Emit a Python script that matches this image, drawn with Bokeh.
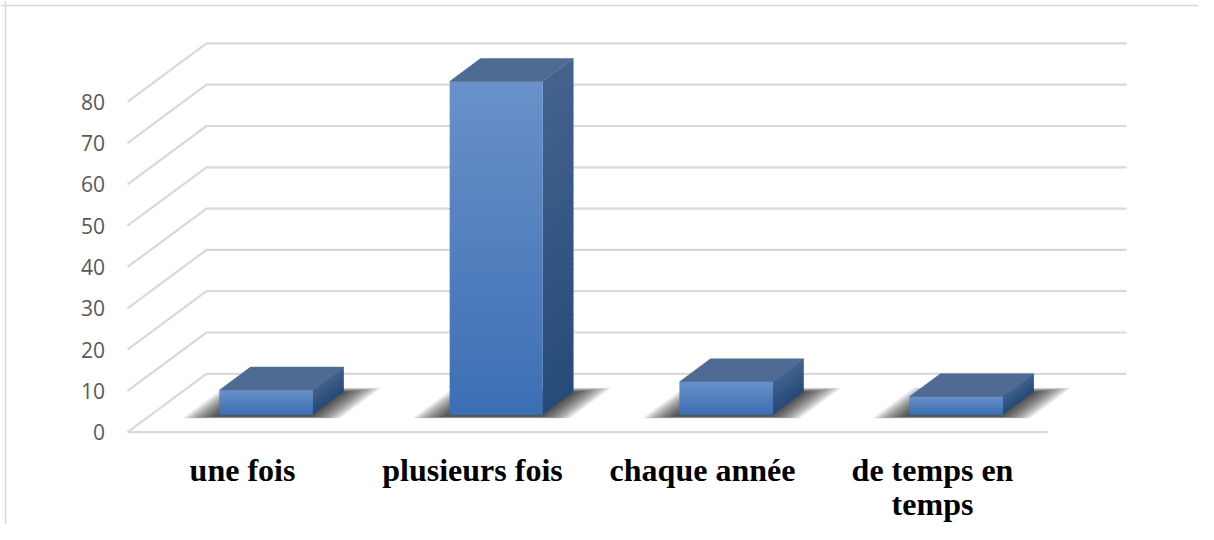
from bokeh.plotting import figure
from bokeh.models import Range1d, Span
from bokeh.core.properties import value
from bokeh.embed import file_html
from bokeh.resources import INLINE

# ---------------- data ----------------
categories = ["une fois", "plusieurs fois", "chaque année", "de temps en\ntemps"]
values = [6, 80.7, 8, 4.4]
y_ticks = [0, 10, 20, 30, 40, 50, 60, 70, 80]

# ---------------- layout constants (pixels) ----------------
W, H = 1198, 524
CAT_PX = 230.0          # pixels per category
VAL_PX = 4.13           # pixels per value unit
ORIGIN_X = 242.0        # px of category 0 centre (front plane)
ORIGIN_Y = 431.7        # px (from top) of value 0 (front plane)
DX = 79.0 / CAT_PX      # depth offset (x) of back wall
DY = 58.4 / VAL_PX      # depth offset (y) of back wall
BW = 93.0 / CAT_PX      # bar width
T0, TD = 0.30, 0.39     # bar front depth, bar depth
T1 = T0 + TD

n = len(categories)


def proj(x, v, t):
    return x + t * DX, v + t * DY


def hex2rgb(h):
    h = h.lstrip("#")
    return tuple(int(h[i:i + 2], 16) for i in (0, 2, 4))


def mix(c1, c2, f):
    a, b = hex2rgb(c1), hex2rgb(c2)
    return "#%02x%02x%02x" % tuple(round(a[i] + (b[i] - a[i]) * f) for i in range(3))


def px_x(px):
    return (px - ORIGIN_X) / CAT_PX


def px_y(py):
    return (ORIGIN_Y - py) / VAL_PX


p = figure(width=W, height=H, output_backend="svg", toolbar_location=None,
           x_axis_location=None, y_axis_location=None, min_border=0,
           x_range=Range1d(px_x(0), px_x(W)),
           y_range=Range1d(px_y(H), px_y(0)))
p.grid.visible = False
p.outline_line_color = None
p.background_fill_color = "white"
p.border_fill_color = "white"

# chart border (top & left)
p.add_layout(Span(location=px_x(5), dimension="height", line_color="#d9d9d9", line_width=1.5))
p.add_layout(Span(location=px_y(5), dimension="width", line_color="#d9d9d9", line_width=1.5))

GRID = "#d9d9d9"
x_left, x_right = -0.5, n - 0.5

# floor front edge
fx0, fy0 = proj(x_left, 0, 0)
fx1, fy1 = proj(x_right, 0, 0)
xs, ys = [[fx0, fx1]], [[fy0, fy1]]
# diagonals on the side wall and back-wall gridlines
for t in y_ticks:
    a = proj(x_left, t, 0)
    b = proj(x_left, t, 1)
    c = proj(x_right, t, 1)
    xs.append([a[0], b[0], c[0]])
    ys.append([a[1], b[1], c[1]])
p.multi_line(xs, ys, line_color=GRID, line_width=2.2)

# y tick labels (front plane)
p.text(x=[x_left - 22.5 / CAT_PX] * len(y_ticks), y=y_ticks, text=[str(t) for t in y_ticks],
       text_align="right", text_baseline="middle", text_color="#595959",
       text_font=value("Open Sans"), text_font_size="21px")

# category labels
lx, ly, lt = [], [], []
for i, c in enumerate(categories):
    for j, line in enumerate(c.split("\n")):
        lx.append(i)
        ly.append(px_y(469.0 + j * 34.0))
        lt.append(line)
p.text(x=lx, y=ly, text=lt, text_align="center", text_baseline="alphabetic",
       text_color="black", text_font=value("Liberation Serif"), text_font_style="bold",
       text_font_size="32px")

# shadows (soft, layered)
layers = 12
for i, v in enumerate(values):
    xl, xr = i - BW / 2, i + BW / 2
    for k in range(layers):
        f = 1 - k / (layers - 1)          # 1 = outermost
        g = (2 + 30 * f) / CAT_PX
        gt = 0.07 * f
        pts = [proj(xl - g, 0, T0 - 0.035 - gt * 0.4), proj(xr + g, 0, T0 - 0.035 - gt * 0.4),
               proj(xr + g, 0, T1 + gt), proj(xl - g, 0, T1 + gt)]
        p.patch([q[0] for q in pts], [q[1] for q in pts], fill_color="#0d0d0d",
                fill_alpha=0.09, line_color=None)

# bars
N = 60
FRONT_TOP, FRONT_BOT = "#6a91c9", "#3b6fb4"
SIDE_TOP, SIDE_BOT = "#43638e", "#264a79"
TOP_COL = "#4f6b94"
for i, v in enumerate(values):
    xl, xr = i - BW / 2, i + BW / 2
    ov = 0.8 / VAL_PX   # small overlap between gradient bands
    # side face
    sx, sy = [], []
    cols = []
    for k in range(N):
        v0, v1 = v * k / N, min(v * (k + 1) / N + ov, v)
        pts = [proj(xr, v0, T0), proj(xr, v0, T1), proj(xr, v1, T1), proj(xr, v1, T0)]
        sx.append([q[0] for q in pts])
        sy.append([q[1] for q in pts])
        cols.append(mix(SIDE_BOT, SIDE_TOP, (k + 0.5) / N))
    p.patches(sx, sy, fill_color=cols, line_color=None)
    # front face
    L, R = [], []
    B, T = [], []
    fc = []
    for k in range(N):
        v0, v1 = v * k / N, min(v * (k + 1) / N + ov, v)
        a = proj(xl, v0, T0)
        b = proj(xr, v1, T0)
        L.append(a[0]); R.append(b[0]); B.append(a[1]); T.append(b[1])
        fc.append(mix(FRONT_BOT, FRONT_TOP, (k + 0.5) / N))
    p.quad(left=L, right=R, bottom=B, top=T, fill_color=fc, line_color=None)
    # top face
    pts = [proj(xl, v, T0), proj(xr, v, T0), proj(xr, v, T1), proj(xl, v, T1)]
    p.patch([q[0] for q in pts], [q[1] for q in pts], fill_color=TOP_COL,
            line_color=TOP_COL, line_width=0.6)

open("out.html", "w").write(file_html(p, INLINE))
